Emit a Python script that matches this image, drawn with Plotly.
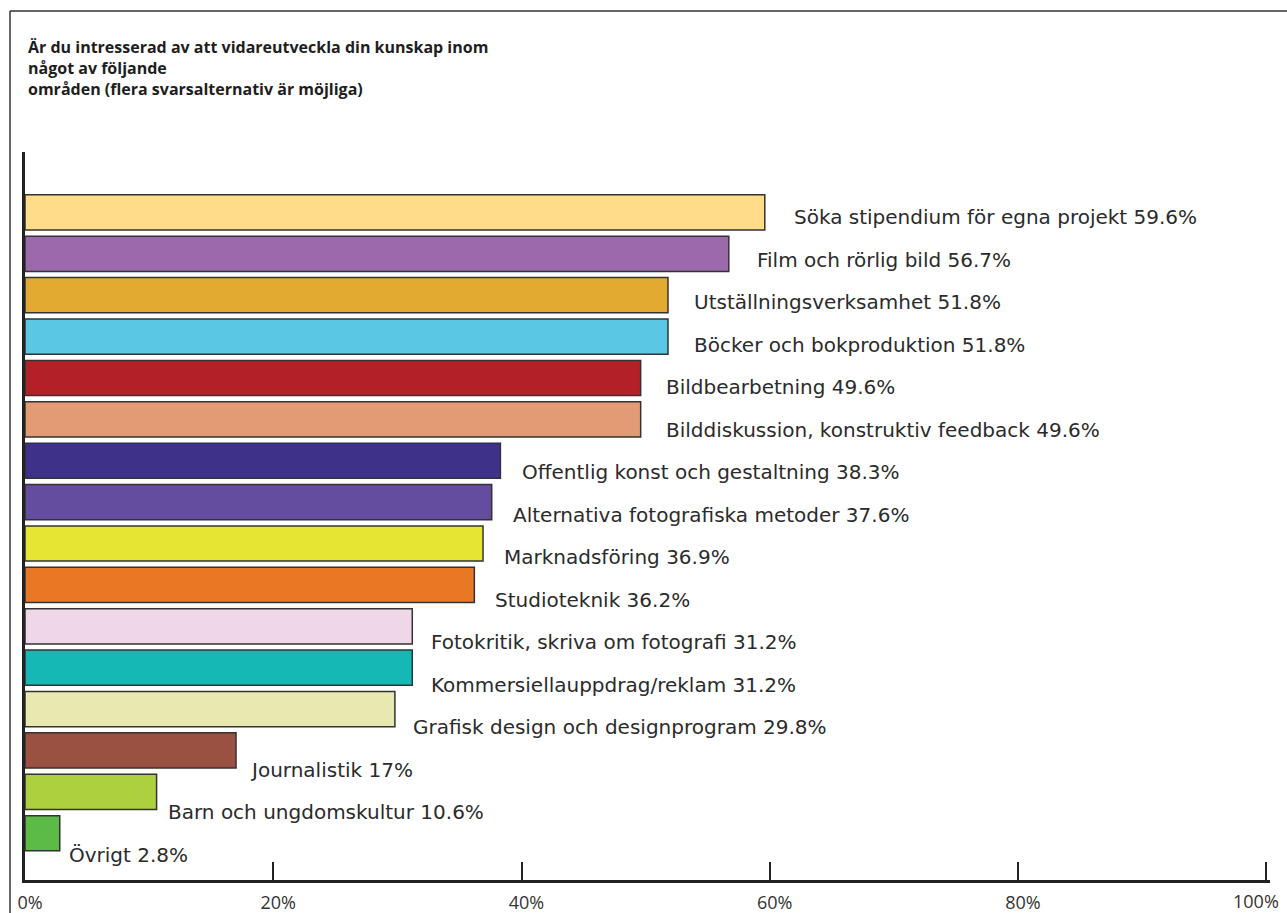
import plotly.graph_objects as go

categories = [
    "Söka stipendium för egna projekt",
    "Film och rörlig bild",
    "Utställningsverksamhet",
    "Böcker och bokproduktion",
    "Bildbearbetning",
    "Bilddiskussion, konstruktiv feedback",
    "Offentlig konst och gestaltning",
    "Alternativa fotografiska metoder",
    "Marknadsföring",
    "Studioteknik",
    "Fotokritik, skriva om fotografi",
    "Kommersiellauppdrag/reklam",
    "Grafisk design och designprogram",
    "Journalistik",
    "Barn och ungdomskultur",
    "Övrigt",
]
values = [59.6, 56.7, 51.8, 51.8, 49.6, 49.6, 38.3, 37.6, 36.9, 36.2, 31.2, 31.2, 29.8, 17, 10.6, 2.8]
value_labels = ["59.6%", "56.7%", "51.8%", "51.8%", "49.6%", "49.6%", "38.3%", "37.6%",
                "36.9%", "36.2%", "31.2%", "31.2%", "29.8%", "17%", "10.6%", "2.8%"]
colors = ["#FEDC8A", "#9D69AD", "#E3AA32", "#5AC7E4", "#B32028", "#E39B76", "#3E3189", "#644C9E",
          "#E7E533", "#EA7724", "#EFD7E8", "#15B8B5", "#E8E9B0", "#9A5141", "#ADD03E", "#5CBA47"]
tick_vals = [0, 20, 40, 60, 80, 100]
tick_text = ["0%", "20%", "40%", "60%", "80%", "100%"]
title_text = ("Är du intresserad av att vidareutveckla din kunskap inom<br>"
              "något av följande<br>områden (flera svarsalternativ är möjliga)")

W, H = 1287, 913
ml, mr, mt, mb = 25, 17, 152, 33
pw = W - ml - mr
ph = H - mt - mb
tick_font = dict(family="Open Sans", size=18, color="#333333")

fig = go.Figure()
fig.add_trace(go.Bar(
    x=values, y=categories, orientation="h",
    marker=dict(color=colors, line=dict(color="#333333", width=1.5)),
    width=0.85, hoverinfo="x+y", showlegend=False,
))

n = len(categories)
for i, (c, v, lab) in enumerate(zip(categories, values, value_labels)):
    fig.add_annotation(
        x=v, y=c, xref="x", yref="y",
        text=f"{c} {lab}", showarrow=False,
        xanchor="left", yanchor="middle",
        xshift=6 + v * 0.35, yshift=-(5 + i * 1.1),
        font=dict(family="DejaVu Sans", size=20, color="#2b2b2b"),
    )

# last tick label drawn inside the page edge (as in the reference)
axis_ticktext = tick_text[:-1] + [""]
fig.add_annotation(
    x=tick_vals[-1], y=-21 / ph, xref="x", yref="paper",
    text=tick_text[-1], showarrow=False, xanchor="right", yanchor="middle",
    xshift=15, font=tick_font,
)

# title
fig.add_annotation(
    x=(26 - ml) / pw, y=(H - mb - 34) / ph, xref="paper", yref="paper",
    text=f"<b>{title_text}</b>", showarrow=False, align="left",
    xanchor="left", yanchor="top",
    font=dict(family="Open Sans", size=16, color="#1e1e1e"),
)

# frame (top and left edges only)
fx0 = (10 - ml) / pw
fy1 = (H - mb - 11) / ph
fig.add_shape(type="line", xref="paper", yref="paper",
              x0=fx0, x1=(W + 30 - ml) / pw, y0=fy1, y1=fy1,
              line=dict(color="#333333", width=1.5))
fig.add_shape(type="line", xref="paper", yref="paper",
              x0=fx0, x1=fx0, y0=fy1, y1=-(mb + 30) / ph,
              line=dict(color="#333333", width=1.5))

fig.update_layout(
    width=W, height=H,
    margin=dict(l=ml, r=mr, t=mt, b=mb),
    paper_bgcolor="white", plot_bgcolor="white",
    bargap=0.15,
    xaxis=dict(
        range=[0, 100.3], tickvals=tick_vals, ticktext=axis_ticktext,
        showgrid=False, zeroline=False, showline=True, linecolor="#222222", linewidth=2.5,
        ticks="inside", ticklen=18, tickwidth=2, tickcolor="#222222",
        tickfont=tick_font,
        ticklabelstandoff=5, ticklabelshift=5, ticklabeloverflow="allow", automargin=False,
        fixedrange=True,
    ),
    yaxis=dict(
        categoryorder="array", categoryarray=categories,
        range=[n - 1 + 1.13, -1.46],
        showticklabels=False, showgrid=False, zeroline=False,
        showline=True, linecolor="#222222", linewidth=2.5, ticks="",
        automargin=False, fixedrange=True,
    ),
)

fig.write_html("out.html", config={"displayModeBar": False},
               post_script="document.body.style.margin='0';document.body.style.overflow='hidden';")
